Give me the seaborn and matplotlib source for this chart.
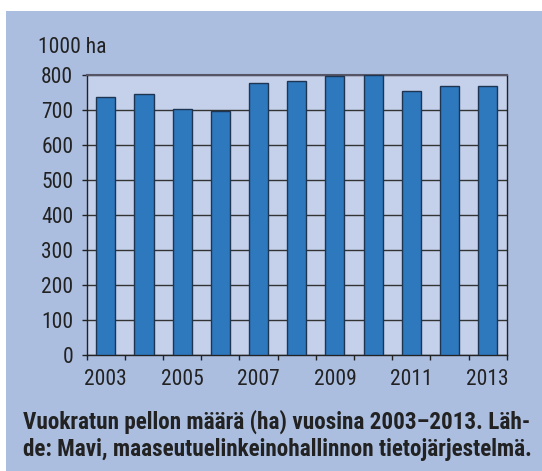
import matplotlib
matplotlib.use("Agg")
import matplotlib.pyplot as plt
import seaborn as sns
import numpy as np
from matplotlib import font_manager
from matplotlib.patches import Rectangle

# Data (1000 ha)
years = ["2003", "2004", "2005", "2006", "2007", "2008",
         "2009", "2010", "2011", "2012", "2013"]
area = [736, 746, 704, 696, 778, 783, 797, 800, 755, 769, 769]
y_ticks = [0, 100, 200, 300, 400, 500, 600, 700, 800]
caption_lines = ["Vuokratun pellon määrä (ha) vuosina 2003–2013. Läh-",
                 "de: Mavi, maaseutuelinkeinohallinnon tietojärjestelmä."]

sns.set_style("white")

# pick a condensed face if one is installed, else a plain sans at a smaller size
names = {f.name for f in font_manager.fontManager.ttflist}
narrow = None
for cand in ["Roboto Condensed", "Archivo Narrow", "PT Sans Narrow", "Liberation Sans Narrow"]:
    if cand in names:
        narrow = cand
        break
if narrow:
    plt.rcParams['font.family'] = [narrow, 'DejaVu Sans']
    fs, cap_fs = 15.5, 16.7
else:
    plt.rcParams['font.family'] = ['Liberation Sans', 'DejaVu Sans']
    fs, cap_fs = 14, 11.5

fig = plt.figure(figsize=(5.42, 4.71), dpi=100)
fig.patch.set_facecolor("white")
# blue panel behind the chart
fig.patches.append(Rectangle((6 / 542, 0), 1, 1 - 11 / 471, transform=fig.transFigure,
                             facecolor="#abbee0", edgecolor="none", zorder=-10))

ax = fig.add_axes([86.7 / 542, 1 - 355 / 471, 420 / 542, 280 / 471])
ax.set_facecolor("#c5d1eb")

sns.barplot(x=years, y=area, order=years, width=0.5, color="#2e78be",
            edgecolor="#1e3552", linewidth=1.0, saturation=1, ax=ax, zorder=3)

ax.set_ylim(0, 800)
ax.set_xlim(-0.5, len(years) - 0.5)
ax.set_yticks(y_ticks)
ax.set_yticklabels([str(v) for v in y_ticks])
ax.yaxis.grid(True, color="#333333", linewidth=1.0, zorder=1)
ax.set_axisbelow(True)

ax.set_xticks(range(0, len(years), 2))
ax.set_xticklabels(years[::2])
ax.set_xticks(np.arange(-0.5, len(years), 1), minor=True)
ax.tick_params(axis="x", which="major", length=0, pad=10, labelsize=fs, colors="#222222")
ax.tick_params(axis="x", which="minor", length=3.5, width=1, color="#222222", bottom=True)
ax.tick_params(axis="y", length=3.6, width=1, color="#222222", left=True, pad=6,
               labelsize=fs, labelcolor="#222222")

for side in ["left", "bottom", "right"]:
    ax.spines[side].set_color("#222222")
    ax.spines[side].set_linewidth(1.0)
ax.spines["top"].set_color("#555566")
ax.spines["top"].set_linewidth(1.5)

ax.set_xlabel("")
ax.set_ylabel("")

fig.text(38 / 542, 1 - 53 / 471, "1000 ha", fontsize=fs, color="#222222",
         ha="left", va="baseline")
for i, line in enumerate(caption_lines):
    fig.text(23 / 542, 1 - (429 + 27 * i) / 471, line, fontsize=cap_fs, fontweight="bold",
             color="#222222", ha="left", va="baseline")

fig.savefig("out.png", dpi=100, facecolor=fig.get_facecolor())
